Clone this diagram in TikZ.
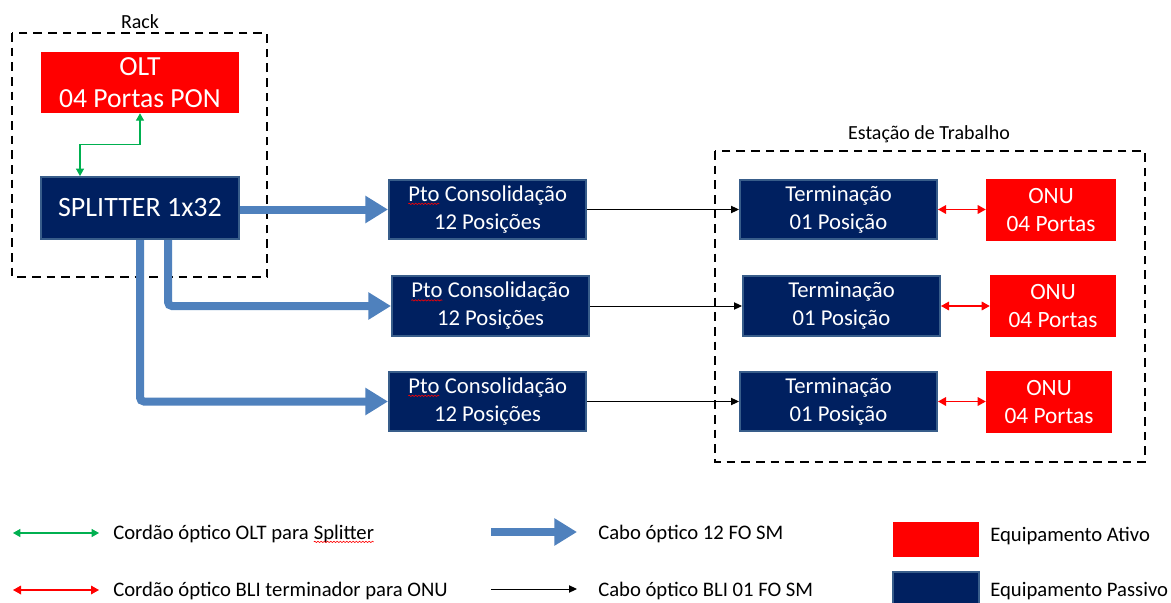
\documentclass[tikz,border=0pt]{standalone}
\usepackage{fontspec}
\setmainfont{Carlito}
\usetikzlibrary{arrows.meta,calc,decorations.pathmorphing}
\definecolor{navy}{HTML}{002060}
\definecolor{navyedge}{HTML}{385D8A}
\definecolor{pred}{HTML}{FF0000}
\definecolor{cblue}{HTML}{4F81BD}
\definecolor{cgreen}{HTML}{00B050}
\newcommand\wavy[1]{\tikz[baseline=(wv.base)]{\node[draw=none,fill=none,minimum width=0pt,minimum height=0pt,inner sep=0pt,outer sep=0pt](wv){#1};\draw[red,line width=0.45pt,decorate,decoration={snake,amplitude=0.5pt,segment length=2.4pt}]([yshift=-1.8pt]wv.base west)--([yshift=-1.8pt]wv.base east);}}
\begin{document}
\begin{tikzpicture}[x=0.75pt,y=-0.75pt,
  navybox/.style={draw=navyedge, line width=1.5pt, fill=navy, text=white, align=center, inner sep=0pt, font=\fontsize{17}{21}\selectfont},
  bignavy/.style={navybox, font=\fontsize{21}{24}\selectfont},
  redbox/.style={fill=pred, text=white, align=center, inner sep=0pt, font=\fontsize{17.5}{21.5}\selectfont},
  bigred/.style={redbox, font=\fontsize{20.7}{24}\selectfont},
  zone/.style={draw=black, line width=2pt, dash pattern=on 6.5pt off 4.5pt},
  lbl/.style={font=\fontsize{15}{18}\selectfont, inner sep=0pt},
  legtext/.style={font=\fontsize{15.5}{18}\selectfont, inner sep=0pt, anchor=west},
  fibre/.style={draw=cblue, line width=6pt, -{Triangle[width=19.5pt,length=17pt]}},
  drop/.style={draw=black, line width=0.75pt, -{Triangle[width=5.5pt,length=6pt]}},
  cordg/.style={draw=cgreen, line width=0.8pt, {Triangle[width=6pt,length=5.5pt]}-{Triangle[width=6pt,length=5.5pt]}},
  cordr/.style={draw=pred, line width=0.9pt, {Triangle[width=6.5pt,length=6pt]}-{Triangle[width=6.5pt,length=6pt]}},
  ]
\clip (0,0) rectangle (1171,603);
\fill[white] (0,0) rectangle (1171,603);

% zones
\draw[zone] (12,33) rectangle (267,277);
\node[lbl] (rack) at (140,22) {Rack};
\draw[zone] (715,151) rectangle (1145,462);
\node[lbl] (est) at (929,134) {Estação de Trabalho};

% rack equipment
\node[bigred, minimum width=148.5pt, minimum height=45.75pt] (olt) at (140,82.5) {OLT\\04 Portas PON};
\node[bignavy, minimum width=148.5pt, minimum height=46.5pt] (split) at (140,208) {SPLITTER 1x32};

% consolidation points
\node[navybox, minimum width=147.75pt, minimum height=44.25pt] (p1) at (487.5,209.5) {\wavy{Pto} Consolidação\\12 Posições};
\node[navybox, minimum width=147.75pt, minimum height=45pt] (p2) at (490.5,306) {\wavy{Pto} Consolidação\\12 Posições};
\node[navybox, minimum width=147.75pt, minimum height=44.25pt] (p3) at (487.5,401.5) {\wavy{Pto} Consolidação\\12 Posições};

% terminations
\node[navybox, minimum width=147.75pt, minimum height=44.25pt] (t1) at (838.5,209.5) {Terminação\\01 Posição};
\node[navybox, minimum width=147.75pt, minimum height=45pt] (t2) at (841.5,306) {Terminação\\01 Posição};
\node[navybox, minimum width=147.75pt, minimum height=44.25pt] (t3) at (838.5,401.5) {Terminação\\01 Posição};

% ONUs
\node[redbox, minimum width=97.5pt, minimum height=46.5pt] (o1) at (1051,210) {ONU\\04 Portas};
\node[redbox, minimum width=94.5pt, minimum height=46.5pt] (o2) at (1053,306) {ONU\\04 Portas};
\node[redbox, minimum width=94.5pt, minimum height=46.5pt] (o3) at (1049,402) {ONU\\04 Portas};

% connectors
\draw[cordg] (olt.south) -- ++(0,31) -| ($(split.north west)+(40,0)$);
\draw[fibre] (split.east |- p1.west) -- (p1.west);
\draw[fibre, rounded corners=3pt] ($(split.south west)+(128,0)$) |- (p2.west);
\draw[fibre, rounded corners=3pt] (split.south) |- (p3.west);
\draw[drop] (p1.east) -- (t1.west);
\draw[drop] (p2.east) -- (t2.west);
\draw[drop] (p3.east) -- (t3.west);
\draw[cordr] (t1.east) -- (t1.east -| o1.west);
\draw[cordr] (t2.east) -- (t2.east -| o2.west);
\draw[cordr] (t3.east) -- (t3.east -| o3.west);

% legend
\coordinate (g1) at (13,533); \coordinate (g2) at (99,533);
\draw[cordg] (g1) -- (g2);
\node[legtext] (lg) at (113,534) {Cordão óptico OLT para \wavy{Splitter}};
\coordinate (r1) at (13,590); \coordinate (r2) at (99,590);
\draw[cordr] (r1) -- (r2);
\node[legtext] (lr) at (113,591) {Cordão óptico BLI terminador para ONU};
\coordinate (b1) at (491,532); \coordinate (b2) at (577,532);
\draw[fibre] (b1) -- (b2);
\node[legtext] (lb) at (598,534) {Cabo óptico 12 FO SM};
\coordinate (k1) at (491,589); \coordinate (k2) at (577,589);
\draw[drop] (k1) -- (k2);
\node[legtext] (lk) at (598,591) {Cabo óptico BLI 01 FO SM};
\node[fill=pred, minimum width=64.5pt, minimum height=26.25pt, inner sep=0pt] (sa) at (936,539.5) {};
\node[legtext] (la) at (990,536) {Equipamento Ativo};
\node[draw=navyedge, line width=1.5pt, fill=navy, minimum width=64.5pt, minimum height=30pt, inner sep=0pt] (sp) at (936,592) {};
\node[legtext] (lp) at (990,591) {Equipamento Passivo};
\end{tikzpicture}
\end{document}
